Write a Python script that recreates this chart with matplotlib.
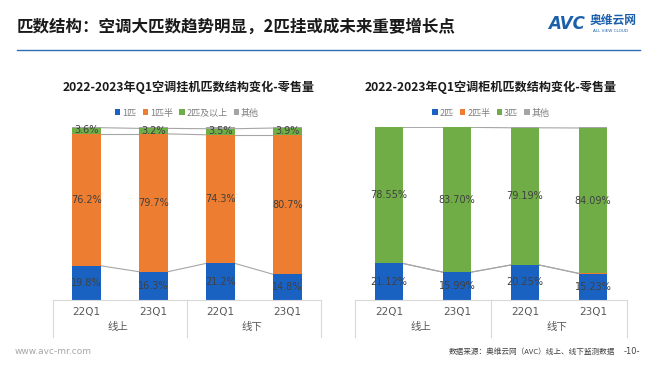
import matplotlib
matplotlib.use("Agg")
import matplotlib.pyplot as plt
import numpy as np
from matplotlib.patches import Patch
from matplotlib.lines import Line2D

plt.rcParams["font.family"] = ["Noto Sans CJK SC", "DejaVu Sans"]

W, H = 660, 372

# ---------------------------------------------------------------------------
# Data
# ---------------------------------------------------------------------------
quarters = ["22Q1", "23Q1", "22Q1", "23Q1"]
channels = ["线上", "线下"]

wall_series = ["1匹", "1匹半", "2匹及以上", "其他"]
wall_1p = [19.8, 16.3, 21.2, 14.8]
wall_15p = [76.2, 79.7, 74.3, 80.7]
wall_2p = [3.6, 3.2, 3.5, 3.9]
wall_other = [0.4, 0.8, 1.0, 0.6]

floor_series = ["2匹", "2匹半", "3匹", "其他"]
floor_2p = [21.12, 15.99, 20.25, 15.23]
floor_25p = [0.1, 0.1, 0.1, 0.1]
floor_3p = [78.55, 83.70, 79.19, 84.09]
floor_other = [0.23, 0.21, 0.46, 0.58]

COLORS = ["#1A62C2", "#ED7D31", "#70AD47", "#A5A5A5"]
TXT = "#404040"
AXIS_GREY = "#D9D9D9"


def px_axes(fig, x0, y0, x1, y1):
    """Axes from pixel box (top-left origin)."""
    return fig.add_axes([x0 / W, 1 - y1 / H, (x1 - x0) / W, (y1 - y0) / H])


def fig_line(fig, xs, ys, **kw):
    fig.add_artist(Line2D([x / W for x in xs], [1 - y / H for y in ys],
                          transform=fig.transFigure, **kw))


def stacked_chart(fig, box, series, names, labels_on, fmt, width):
    x0, y0, x1, y1 = box
    ax = px_axes(fig, x0, y0, x1, y1)
    x = np.arange(len(quarters))
    bottom = np.zeros(len(quarters))
    tops = []
    for vals, col, show in zip(series, COLORS, labels_on):
        vals = np.array(vals)
        ax.bar(x, vals, width, bottom=bottom, color=col, zorder=2)
        if show:
            for xi, b, v in zip(x, bottom, vals):
                yy = b + v / 2 if v > 6 else b + v / 2 + 0.3
                ax.text(xi, yy, fmt.format(v), ha="center", va="center",
                        fontsize=7, color=TXT, family=["DejaVu Sans"], zorder=4)
        bottom = bottom + vals
        tops.append(bottom.copy())
    # series lines between neighbouring bars
    for t in tops[:-1]:
        for i in range(len(x) - 1):
            ax.plot([x[i] + width / 2, x[i + 1] - width / 2], [t[i], t[i + 1]],
                    color="#A6A6A6", lw=0.8, zorder=1)
    ax.set_xlim(-0.5, len(x) - 0.5)
    ax.set_ylim(0, 100)
    ax.set_yticks([])
    ax.set_xticks(x)
    ax.set_xticklabels(quarters, fontsize=7.5, color="#595959",
                       family=["DejaVu Sans"])
    ax.tick_params(axis="x", length=0, pad=5)
    for s in ["top", "right", "left"]:
        ax.spines[s].set_visible(False)
    ax.spines["bottom"].set_color(AXIS_GREY)
    ax.spines["bottom"].set_linewidth(0.8)

    # multi-level category axis
    xm = (x0 + x1) / 2
    for xv in (x0, xm, x1):
        fig_line(fig, [xv, xv], [y1, y1 + 37], color=AXIS_GREY, lw=0.8)
    for cx, ch in zip(((x0 + xm) / 2 - 2, (xm + x1) / 2 - 2), channels):
        fig.text(cx / W, 1 - 327 / H, ch, ha="center", va="center",
                 fontsize=7.5, color="#595959")

    handles = [Patch(facecolor=c, edgecolor="none") for c in COLORS]
    fig.legend(handles, names, loc="center", bbox_to_anchor=(xm / W, 1 - 113 / H),
               ncol=4, frameon=False, fontsize=6.5, labelcolor="#7F7F7F",
               handlelength=0.6, handleheight=0.6, handletextpad=0.2,
               columnspacing=0.7)
    return ax


fig = plt.figure(figsize=(W / 100, H / 100), dpi=100)
fig.patch.set_facecolor("white")

# header
fig.text(17 / W, 1 - 27 / H, "匹数结构：空调大匹数趋势明显，2匹挂或成未来重要增长点",
         ha="left", va="center", fontsize=11.9, fontweight="bold", color="#1A1A1A")
fig_line(fig, [17, 640], [50, 50], color="#2E6DB4", lw=1.0)
fig.text(548 / W, 1 - 24 / H, "AVC", ha="left", va="center", fontsize=12,
         fontweight="bold", style="italic", color="#1B5FAA", family=["DejaVu Sans"])
fig.text(590 / W, 1 - 20 / H, "奥维云网", ha="left", va="center", fontsize=8.5,
         fontweight="bold", color="#1B5FAA")
fig.text(593 / W, 1 - 31 / H, "ALL VIEW CLOUD", ha="left", va="center",
         fontsize=3, color="#1B5FAA", family=["DejaVu Sans"])

# chart titles
fig.text(189 / W, 1 - 87 / H, "2022-2023年Q1空调挂机匹数结构变化-零售量",
         ha="center", va="center", fontsize=8.7, fontweight="bold", color="#1A1A1A")
fig.text(491 / W, 1 - 87 / H, "2022-2023年Q1空调柜机匹数结构变化-零售量",
         ha="center", va="center", fontsize=8.7, fontweight="bold", color="#1A1A1A")

stacked_chart(fig, (53, 127, 321, 300),
              [wall_1p, wall_15p, wall_2p, wall_other], wall_series,
              [True, True, True, False], "{:.1f}%", 0.42)
stacked_chart(fig, (355, 127, 627, 300),
              [floor_2p, floor_25p, floor_3p, floor_other], floor_series,
              [True, False, True, False], "{:.2f}%", 0.40)

# footer
fig.text(15 / W, 1 - 352 / H, "www.avc-mr.com", ha="left", va="center",
         fontsize=6.5, color="#A6A6A6", family=["DejaVu Sans"])
fig.text(615 / W, 1 - 352 / H, "数据来源：奥维云网（AVC）线上、线下监测数据",
         ha="right", va="center", fontsize=5.5, color="#404040")
fig.text(640 / W, 1 - 352 / H, "-10-", ha="right", va="center",
         fontsize=6, color="#404040", family=["DejaVu Sans"])

fig.savefig("out.png", dpi=100, facecolor="white")
